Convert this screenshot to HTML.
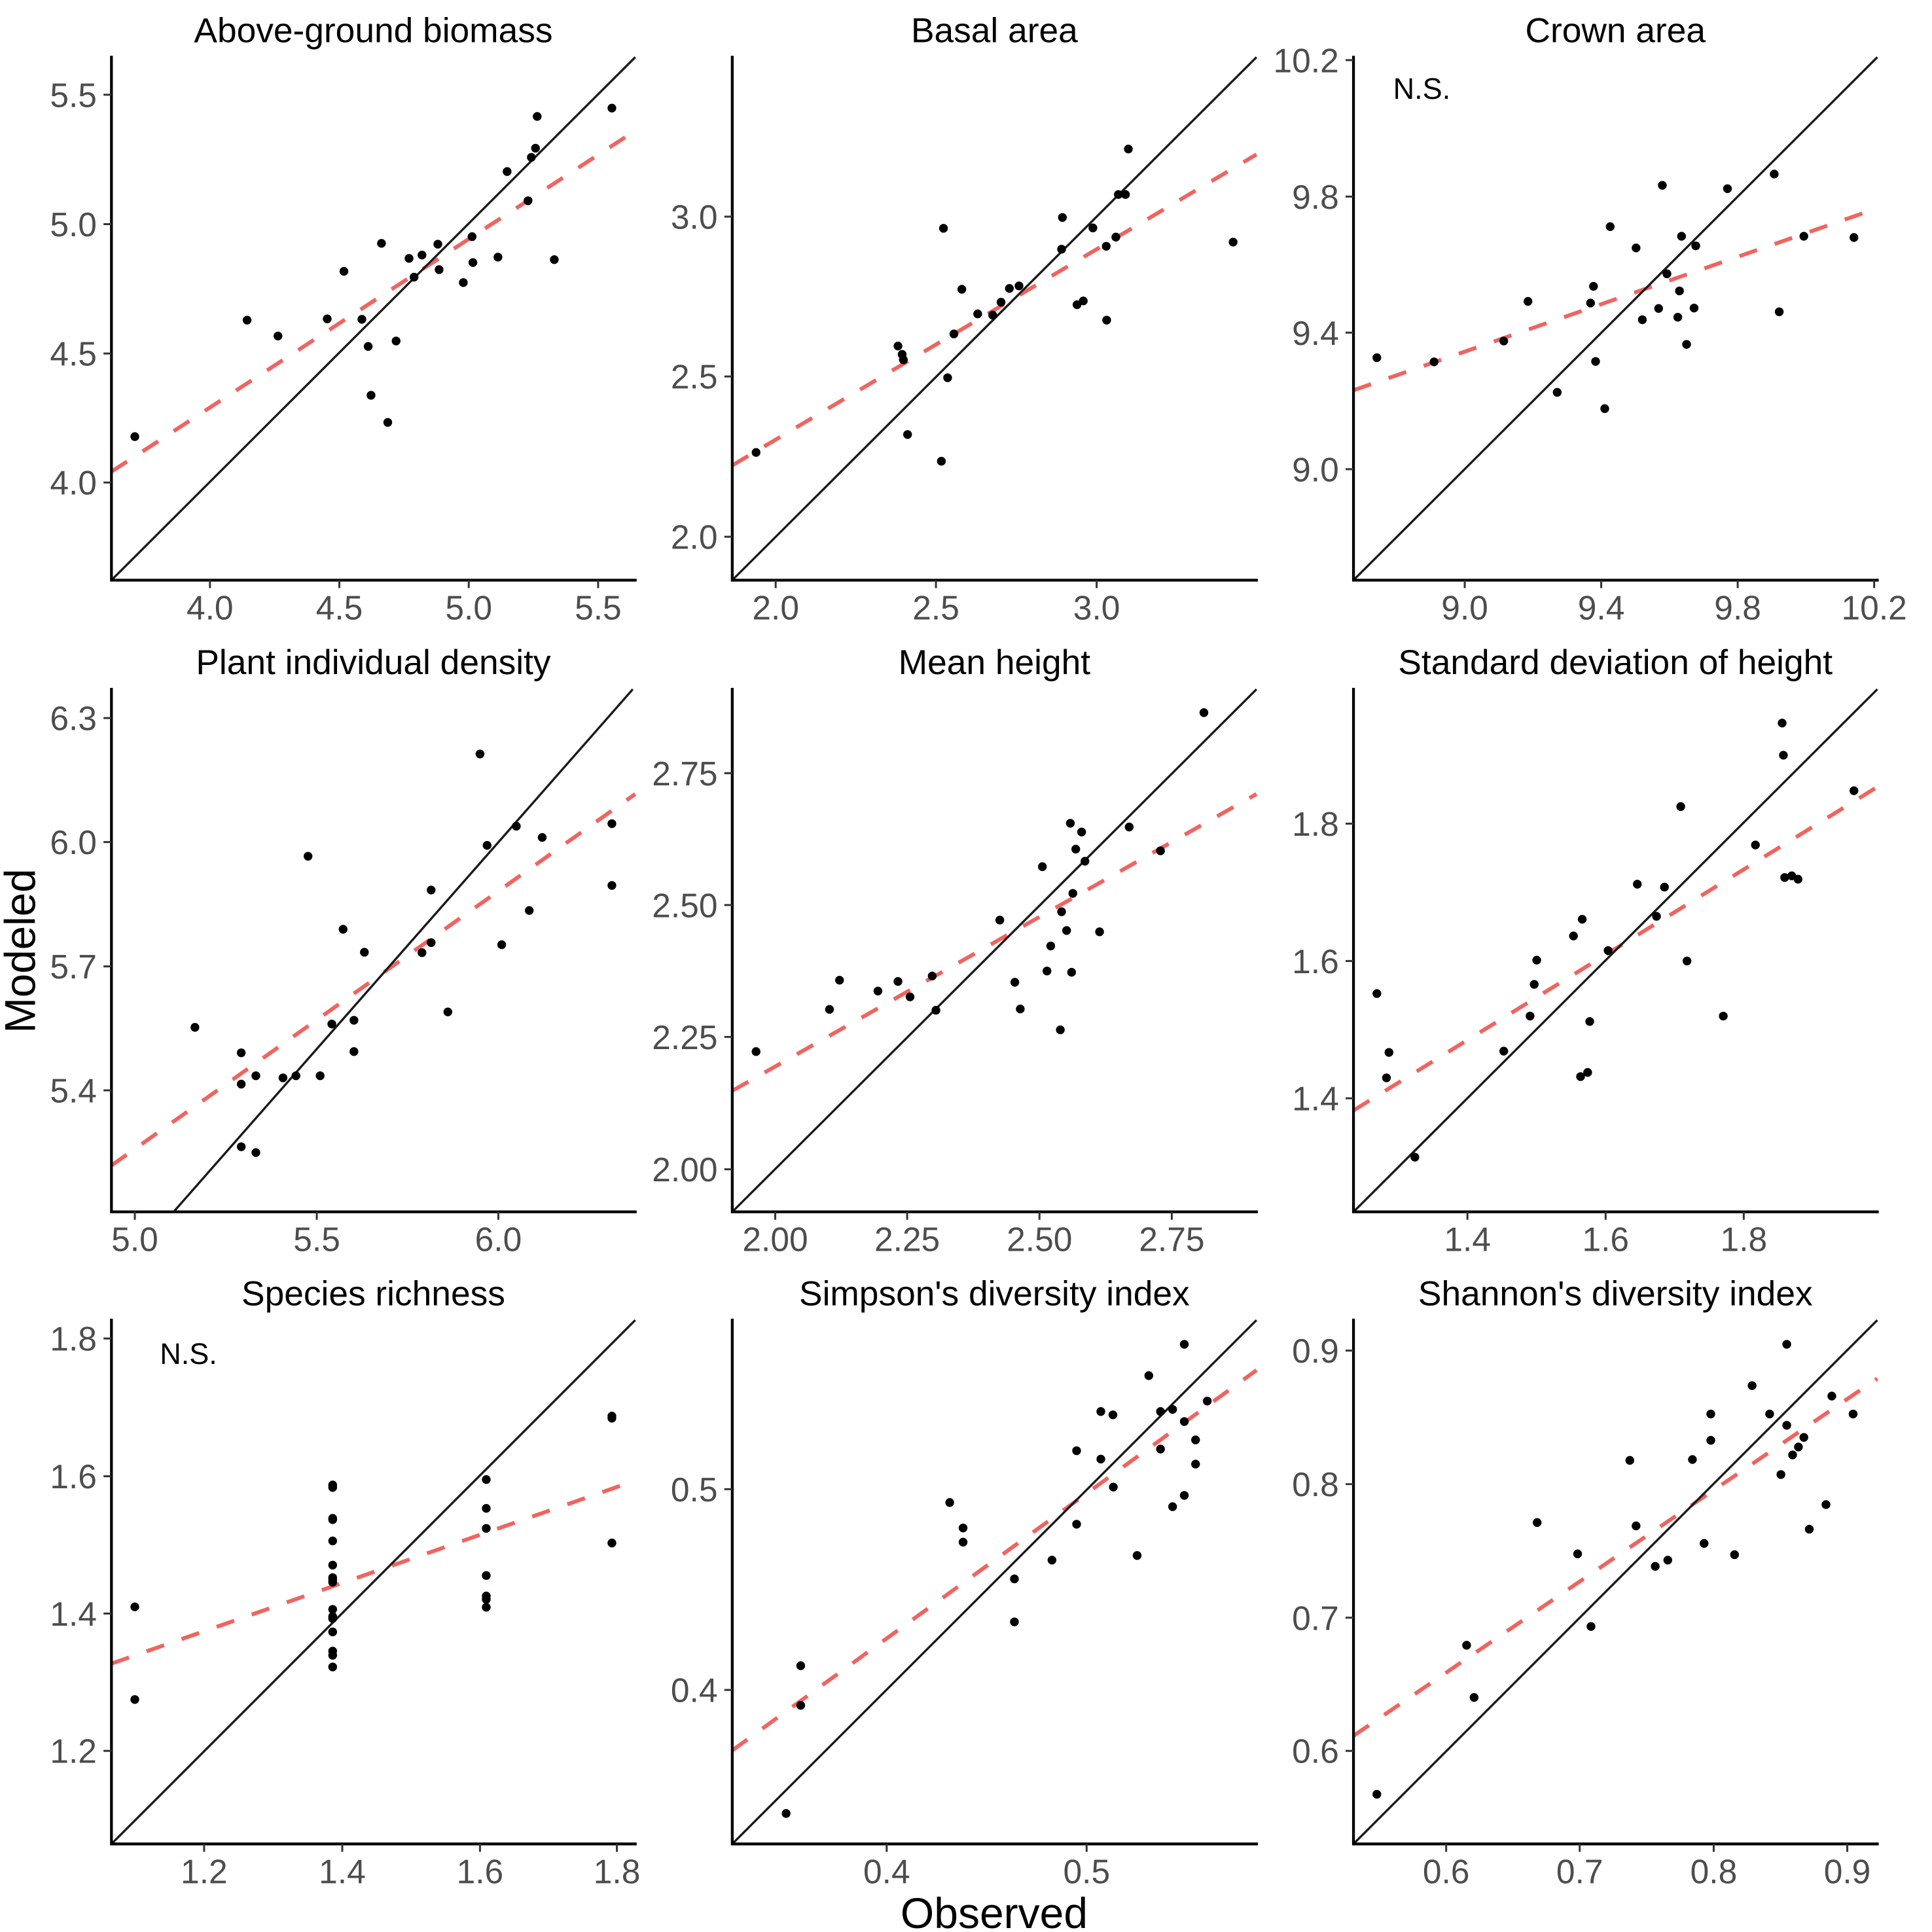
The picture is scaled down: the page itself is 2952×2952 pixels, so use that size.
<!DOCTYPE html>
<html>
<head>
<meta charset="utf-8">
<style>
  html, body { margin:0; padding:0; background:#fff; }
  svg { display:block; font-family:"Liberation Sans", Arial, sans-serif; }
  .pt { fill:#000; }
  .ax { stroke:#000; stroke-width:6.7; fill:none; stroke-linecap:square; }
  .tk { stroke:#333; stroke-width:4.7; fill:none; }
  .red { stroke:#F06460; stroke-width:9.4; stroke-dasharray:44.5 44.5; fill:none; }
  .blk { stroke:#1a1a1a; stroke-width:5.3; fill:none; }
  .tl { font-size:80.8px; fill:#4D4D4D; }
  .tt { font-size:83.6px; fill:#000; }
  .ns { font-size:70.6px; fill:#000; }
  .xl { text-anchor:middle; }
  .yl { text-anchor:end; }
</style>
</head>
<body>
<svg width="2952" height="2952" viewBox="0 0 2952 2952" xmlns="http://www.w3.org/2000/svg">
<rect x="0" y="0" width="2952" height="2952" fill="#fff"/>

<!-- Panel 1: Above-ground biomass -->
<g transform="translate(0,0) scale(0.637755)">
  <line class="red" x1="267" y1="1130" x2="1522" y2="313"/>
  <line class="blk" x1="267" y1="1390" x2="1522" y2="137"/>
  <g class="pt">
    <circle cx="323" cy="1046" r="10.5"/><circle cx="592" cy="767" r="10.5"/><circle cx="666" cy="805" r="10.5"/>
    <circle cx="784" cy="764" r="10.5"/><circle cx="824" cy="650" r="10.5"/><circle cx="867" cy="765" r="10.5"/>
    <circle cx="882" cy="830" r="10.5"/><circle cx="889" cy="947" r="10.5"/><circle cx="914" cy="583" r="10.5"/>
    <circle cx="929" cy="1012" r="10.5"/><circle cx="949" cy="817" r="10.5"/><circle cx="980" cy="619" r="10.5"/>
    <circle cx="992" cy="664" r="10.5"/><circle cx="1011" cy="611" r="10.5"/><circle cx="1049" cy="585" r="10.5"/>
    <circle cx="1052" cy="646" r="10.5"/><circle cx="1110" cy="677" r="10.5"/><circle cx="1131" cy="567" r="10.5"/>
    <circle cx="1133" cy="629" r="10.5"/><circle cx="1193" cy="616" r="10.5"/><circle cx="1215" cy="411" r="10.5"/>
    <circle cx="1265" cy="481" r="10.5"/><circle cx="1273" cy="377" r="10.5"/><circle cx="1283" cy="355" r="10.5"/>
    <circle cx="1287" cy="279" r="10.5"/><circle cx="1328" cy="622" r="10.5"/><circle cx="1466" cy="259" r="10.5"/>
  </g>
  <path class="ax" d="M267,137 L267,1390 L1522,1390"/>
  <path class="tk" d="M503,1390v19 M813,1390v19 M1123,1390v19 M1433,1390v19 M267,227h-19 M267,537h-19 M267,847h-19 M267,1156h-19"/>
  <g class="tl xl">
    <text x="503" y="1484">4.0</text><text x="813" y="1484">4.5</text><text x="1123" y="1484">5.0</text><text x="1433" y="1484">5.5</text>
  </g>
  <g class="tl yl">
    <text x="232" y="256">5.5</text><text x="232" y="566">5.0</text><text x="232" y="876">4.5</text><text x="232" y="1185">4.0</text>
  </g>
  <text class="tt" x="894.5" y="101" text-anchor="middle">Above-ground biomass</text>
</g>

<!-- Panel 2: Basal area -->
<g transform="translate(976,0) scale(0.637755)">
  <line class="red" x1="224" y1="1115" x2="1480" y2="370"/>
  <line class="blk" x1="224" y1="1390" x2="1480" y2="137"/>
  <g class="pt">
    <circle cx="281" cy="1084" r="10.5"/><circle cx="621" cy="829" r="10.5"/><circle cx="631" cy="849" r="10.5"/>
    <circle cx="634" cy="862" r="10.5"/><circle cx="644" cy="1041" r="10.5"/><circle cx="725" cy="1105" r="10.5"/>
    <circle cx="730" cy="547" r="10.5"/><circle cx="740" cy="905" r="10.5"/><circle cx="755" cy="800" r="10.5"/>
    <circle cx="774" cy="693" r="10.5"/><circle cx="812" cy="752" r="10.5"/><circle cx="848" cy="755" r="10.5"/>
    <circle cx="868" cy="724" r="10.5"/><circle cx="888" cy="691" r="10.5"/><circle cx="911" cy="685" r="10.5"/>
    <circle cx="1013" cy="597" r="10.5"/><circle cx="1015" cy="521" r="10.5"/><circle cx="1050" cy="730" r="10.5"/>
    <circle cx="1065" cy="721" r="10.5"/><circle cx="1088" cy="546" r="10.5"/><circle cx="1120" cy="590" r="10.5"/>
    <circle cx="1121" cy="767" r="10.5"/><circle cx="1143" cy="568" r="10.5"/><circle cx="1149" cy="466" r="10.5"/>
    <circle cx="1166" cy="466" r="10.5"/><circle cx="1173" cy="357" r="10.5"/><circle cx="1424" cy="580" r="10.5"/>
  </g>
  <path class="ax" d="M224,137 L224,1390 L1480,1390"/>
  <path class="tk" d="M328,1390v19 M712,1390v19 M1097,1390v19 M224,519h-19 M224,902h-19 M224,1286h-19"/>
  <g class="tl xl">
    <text x="328" y="1484">2.0</text><text x="712" y="1484">2.5</text><text x="1097" y="1484">3.0</text>
  </g>
  <g class="tl yl">
    <text x="189" y="548">3.0</text><text x="189" y="931">2.5</text><text x="189" y="1315">2.0</text>
  </g>
  <text class="tt" x="852" y="101" text-anchor="middle">Basal area</text>
</g>

<!-- Panel 3: Crown area -->
<g transform="translate(1952,0) scale(0.637755)">
  <line class="red" x1="182" y1="935" x2="1437" y2="499"/>
  <line class="blk" x1="182" y1="1390" x2="1437" y2="137"/>
  <g class="pt">
    <circle cx="238" cy="857" r="10.5"/><circle cx="375" cy="867" r="10.5"/><circle cx="542" cy="817" r="10.5"/>
    <circle cx="600" cy="722" r="10.5"/><circle cx="670" cy="940" r="10.5"/><circle cx="750" cy="726" r="10.5"/>
    <circle cx="757" cy="686" r="10.5"/><circle cx="762" cy="866" r="10.5"/><circle cx="784" cy="979" r="10.5"/>
    <circle cx="797" cy="543" r="10.5"/><circle cx="859" cy="594" r="10.5"/><circle cx="874" cy="766" r="10.5"/>
    <circle cx="913" cy="739" r="10.5"/><circle cx="922" cy="444" r="10.5"/><circle cx="933" cy="656" r="10.5"/>
    <circle cx="959" cy="760" r="10.5"/><circle cx="963" cy="697" r="10.5"/><circle cx="968" cy="566" r="10.5"/>
    <circle cx="980" cy="825" r="10.5"/><circle cx="998" cy="738" r="10.5"/><circle cx="1002" cy="589" r="10.5"/>
    <circle cx="1078" cy="452" r="10.5"/><circle cx="1190" cy="417" r="10.5"/><circle cx="1202" cy="747" r="10.5"/>
    <circle cx="1261" cy="566" r="10.5"/><circle cx="1381" cy="569" r="10.5"/>
  </g>
  <path class="ax" d="M182,137 L182,1390 L1437,1390"/>
  <path class="tk" d="M448.5,1390v19 M775.5,1390v19 M1102.5,1390v19 M1429.5,1390v19 M182,144h-19 M182,471h-19 M182,797h-19 M182,1124h-19"/>
  <g class="tl xl">
    <text x="448.5" y="1484">9.0</text><text x="775.5" y="1484">9.4</text><text x="1102.5" y="1484">9.8</text><text x="1429.5" y="1484">10.2</text>
  </g>
  <g class="tl yl">
    <text x="147" y="173">10.2</text><text x="147" y="500">9.8</text><text x="147" y="826">9.4</text><text x="147" y="1153">9.0</text>
  </g>
  <text class="tt" x="809.5" y="101" text-anchor="middle">Crown area</text>
  <text class="ns" x="277" y="237">N.S.</text>
</g>

<!-- Panel 4: Plant individual density -->
<g transform="translate(0,976) scale(0.637755)">
  <line class="red" x1="267" y1="1262" x2="1522" y2="372"/>
  <line class="blk" x1="416" y1="1373" x2="1516" y2="121"/>
  <g class="pt">
    <circle cx="467" cy="931" r="10.5"/><circle cx="578" cy="992" r="10.5"/><circle cx="578" cy="1067" r="10.5"/>
    <circle cx="578" cy="1217" r="10.5"/><circle cx="613" cy="1047" r="10.5"/><circle cx="613" cy="1231" r="10.5"/>
    <circle cx="678" cy="1052" r="10.5"/><circle cx="709" cy="1047" r="10.5"/><circle cx="738" cy="521" r="10.5"/>
    <circle cx="767" cy="1047" r="10.5"/><circle cx="795" cy="923" r="10.5"/><circle cx="822" cy="696" r="10.5"/>
    <circle cx="848" cy="914" r="10.5"/><circle cx="848" cy="989" r="10.5"/><circle cx="873" cy="751" r="10.5"/>
    <circle cx="1011" cy="752" r="10.5"/><circle cx="1033" cy="602" r="10.5"/><circle cx="1033" cy="728" r="10.5"/>
    <circle cx="1073" cy="894" r="10.5"/><circle cx="1150" cy="276" r="10.5"/><circle cx="1167" cy="495" r="10.5"/>
    <circle cx="1202" cy="733" r="10.5"/><circle cx="1237" cy="449" r="10.5"/><circle cx="1268" cy="651" r="10.5"/>
    <circle cx="1299" cy="476" r="10.5"/><circle cx="1466" cy="443" r="10.5"/><circle cx="1466" cy="591" r="10.5"/>
  </g>
  <path class="ax" d="M267,121 L267,1373 L1522,1373"/>
  <path class="tk" d="M323,1373v19 M759,1373v19 M1194,1373v19 M267,190h-19 M267,487h-19 M267,785h-19 M267,1082h-19"/>
  <g class="tl xl">
    <text x="323" y="1467">5.0</text><text x="759" y="1467">5.5</text><text x="1194" y="1467">6.0</text>
  </g>
  <g class="tl yl">
    <text x="232" y="219">6.3</text><text x="232" y="516">6.0</text><text x="232" y="814">5.7</text><text x="232" y="1111">5.4</text>
  </g>
  <text class="tt" x="894.5" y="85" text-anchor="middle">Plant individual density</text>
</g>

<!-- Panel 5: Mean height -->
<g transform="translate(976,976) scale(0.637755)">
  <line class="red" x1="224" y1="1083" x2="1480" y2="372"/>
  <line class="blk" x1="224" y1="1373" x2="1480" y2="121"/>
  <g class="pt">
    <circle cx="281" cy="989" r="10.5"/><circle cx="457" cy="888" r="10.5"/><circle cx="481" cy="818" r="10.5"/>
    <circle cx="573" cy="844" r="10.5"/><circle cx="621" cy="821" r="10.5"/><circle cx="650" cy="858" r="10.5"/>
    <circle cx="703" cy="808" r="10.5"/><circle cx="712" cy="890" r="10.5"/><circle cx="865" cy="674" r="10.5"/>
    <circle cx="901" cy="823" r="10.5"/><circle cx="914" cy="887" r="10.5"/><circle cx="967" cy="546" r="10.5"/>
    <circle cx="978" cy="796" r="10.5"/><circle cx="987" cy="736" r="10.5"/><circle cx="1010" cy="937" r="10.5"/>
    <circle cx="1013" cy="654" r="10.5"/><circle cx="1025" cy="699" r="10.5"/><circle cx="1034" cy="442" r="10.5"/>
    <circle cx="1037" cy="799" r="10.5"/><circle cx="1040" cy="610" r="10.5"/><circle cx="1047" cy="504" r="10.5"/>
    <circle cx="1061" cy="463" r="10.5"/><circle cx="1069" cy="533" r="10.5"/><circle cx="1104" cy="702" r="10.5"/>
    <circle cx="1175" cy="451" r="10.5"/><circle cx="1250" cy="508" r="10.5"/><circle cx="1354" cy="177" r="10.5"/>
  </g>
  <path class="ax" d="M224,121 L224,1373 L1480,1373"/>
  <path class="tk" d="M327,1373v19 M643,1373v19 M960,1373v19 M1277,1373v19 M224,322h-19 M224,638h-19 M224,954h-19 M224,1271h-19"/>
  <g class="tl xl">
    <text x="327" y="1467">2.00</text><text x="643" y="1467">2.25</text><text x="960" y="1467">2.50</text><text x="1277" y="1467">2.75</text>
  </g>
  <g class="tl yl">
    <text x="189" y="351">2.75</text><text x="189" y="667">2.50</text><text x="189" y="983">2.25</text><text x="189" y="1300">2.00</text>
  </g>
  <text class="tt" x="852" y="85" text-anchor="middle">Mean height</text>
</g>

<!-- Panel 6: Standard deviation of height -->
<g transform="translate(1952,976) scale(0.637755)">
  <line class="red" x1="182" y1="1130" x2="1437" y2="355"/>
  <line class="blk" x1="182" y1="1373" x2="1437" y2="121"/>
  <g class="pt">
    <circle cx="238" cy="850" r="10.5"/><circle cx="261" cy="1052" r="10.5"/><circle cx="267" cy="991" r="10.5"/>
    <circle cx="329" cy="1242" r="10.5"/><circle cx="542" cy="988" r="10.5"/><circle cx="605" cy="904" r="10.5"/>
    <circle cx="615" cy="828" r="10.5"/><circle cx="621" cy="770" r="10.5"/><circle cx="709" cy="712" r="10.5"/>
    <circle cx="726" cy="1049" r="10.5"/><circle cx="730" cy="672" r="10.5"/><circle cx="743" cy="1039" r="10.5"/>
    <circle cx="748" cy="917" r="10.5"/><circle cx="792" cy="747" r="10.5"/><circle cx="862" cy="588" r="10.5"/>
    <circle cx="908" cy="665" r="10.5"/><circle cx="927" cy="595" r="10.5"/><circle cx="966" cy="402" r="10.5"/>
    <circle cx="981" cy="772" r="10.5"/><circle cx="1068" cy="904" r="10.5"/><circle cx="1145" cy="494" r="10.5"/>
    <circle cx="1209" cy="202" r="10.5"/><circle cx="1212" cy="279" r="10.5"/><circle cx="1215" cy="572" r="10.5"/>
    <circle cx="1232" cy="568" r="10.5"/><circle cx="1247" cy="576" r="10.5"/><circle cx="1381" cy="364" r="10.5"/>
  </g>
  <path class="ax" d="M182,121 L182,1373 L1437,1373"/>
  <path class="tk" d="M455,1373v19 M786,1373v19 M1117,1373v19 M182,443h-19 M182,772h-19 M182,1101h-19"/>
  <g class="tl xl">
    <text x="455" y="1467">1.4</text><text x="786" y="1467">1.6</text><text x="1117" y="1467">1.8</text>
  </g>
  <g class="tl yl">
    <text x="147" y="472">1.8</text><text x="147" y="801">1.6</text><text x="147" y="1130">1.4</text>
  </g>
  <text class="tt" x="809.5" y="85" text-anchor="middle">Standard deviation of height</text>
</g>

<!-- Panel 7: Species richness -->
<g transform="translate(0,1952) scale(0.637755)">
  <line class="red" x1="267" y1="925" x2="1522" y2="486.5"/>
  <line class="blk" x1="267" y1="1357" x2="1522" y2="102"/>
  <g class="pt">
    <circle cx="323" cy="789" r="10.5"/><circle cx="323" cy="1011" r="10.5"/>
    <circle cx="797" cy="497" r="10.5"/><circle cx="797" cy="503" r="10.5"/><circle cx="797" cy="577" r="10.5"/>
    <circle cx="797" cy="580" r="10.5"/><circle cx="797" cy="631" r="10.5"/><circle cx="797" cy="689" r="10.5"/>
    <circle cx="797" cy="719" r="10.5"/><circle cx="797" cy="724" r="10.5"/><circle cx="797" cy="730" r="10.5"/>
    <circle cx="797" cy="795" r="10.5"/><circle cx="797" cy="812" r="10.5"/><circle cx="797" cy="817" r="10.5"/>
    <circle cx="797" cy="849" r="10.5"/><circle cx="797" cy="895" r="10.5"/><circle cx="797" cy="905" r="10.5"/>
    <circle cx="797" cy="933" r="10.5"/>
    <circle cx="1165" cy="484" r="10.5"/><circle cx="1165" cy="553" r="10.5"/><circle cx="1165" cy="601" r="10.5"/>
    <circle cx="1165" cy="714" r="10.5"/><circle cx="1165" cy="763" r="10.5"/><circle cx="1165" cy="771" r="10.5"/>
    <circle cx="1165" cy="790" r="10.5"/>
    <circle cx="1466" cy="332" r="10.5"/><circle cx="1466" cy="337" r="10.5"/><circle cx="1466" cy="636" r="10.5"/>
  </g>
  <path class="ax" d="M267,102 L267,1357 L1522,1357"/>
  <path class="tk" d="M489,1357v19 M820,1357v19 M1150,1357v19 M1478,1357v19 M267,146h-19 M267,476h-19 M267,805h-19 M267,1134h-19"/>
  <g class="tl xl">
    <text x="489" y="1451">1.2</text><text x="820" y="1451">1.4</text><text x="1150" y="1451">1.6</text><text x="1478" y="1451">1.8</text>
  </g>
  <g class="tl yl">
    <text x="232" y="175">1.8</text><text x="232" y="505">1.6</text><text x="232" y="834">1.4</text><text x="232" y="1163">1.2</text>
  </g>
  <text class="tt" x="894.5" y="67" text-anchor="middle">Species richness</text>
  <text class="ns" x="383" y="207">N.S.</text>
</g>

<!-- Panel 8: Simpson's diversity index -->
<g transform="translate(976,1952) scale(0.637755)">
  <line class="red" x1="224" y1="1133" x2="1480" y2="222"/>
  <line class="blk" x1="224" y1="1357" x2="1480" y2="102"/>
  <g class="pt">
    <circle cx="353" cy="1284" r="10.5"/><circle cx="388" cy="930" r="10.5"/><circle cx="388" cy="1025" r="10.5"/>
    <circle cx="745" cy="539" r="10.5"/><circle cx="777" cy="600" r="10.5"/><circle cx="777" cy="634" r="10.5"/>
    <circle cx="900" cy="722" r="10.5"/><circle cx="900" cy="825" r="10.5"/><circle cx="990" cy="677" r="10.5"/>
    <circle cx="1049" cy="415" r="10.5"/><circle cx="1049" cy="591" r="10.5"/><circle cx="1107" cy="321" r="10.5"/>
    <circle cx="1107" cy="435" r="10.5"/><circle cx="1136" cy="329" r="10.5"/><circle cx="1137" cy="502" r="10.5"/>
    <circle cx="1194" cy="666" r="10.5"/><circle cx="1222" cy="235" r="10.5"/><circle cx="1250" cy="321" r="10.5"/>
    <circle cx="1250" cy="411" r="10.5"/><circle cx="1279" cy="316" r="10.5"/><circle cx="1279" cy="549" r="10.5"/>
    <circle cx="1307" cy="160" r="10.5"/><circle cx="1307" cy="345" r="10.5"/><circle cx="1307" cy="522" r="10.5"/>
    <circle cx="1334" cy="389" r="10.5"/><circle cx="1334" cy="447" r="10.5"/><circle cx="1362" cy="296" r="10.5"/>
  </g>
  <path class="ax" d="M224,102 L224,1357 L1480,1357"/>
  <path class="tk" d="M594,1357v19 M1073,1357v19 M224,507h-19 M224,988h-19"/>
  <g class="tl xl">
    <text x="594" y="1451">0.4</text><text x="1073" y="1451">0.5</text>
  </g>
  <g class="tl yl">
    <text x="189" y="536">0.5</text><text x="189" y="1017">0.4</text>
  </g>
  <text class="tt" x="852" y="67" text-anchor="middle">Simpson's diversity index</text>
</g>

<!-- Panel 9: Shannon's diversity index -->
<g transform="translate(1952,1952) scale(0.637755)">
  <line class="red" x1="182" y1="1098" x2="1437" y2="242"/>
  <line class="blk" x1="182" y1="1357" x2="1437" y2="102"/>
  <g class="pt">
    <circle cx="238" cy="1238" r="10.5"/><circle cx="453" cy="881" r="10.5"/><circle cx="471" cy="1006" r="10.5"/>
    <circle cx="622" cy="587" r="10.5"/><circle cx="719" cy="662" r="10.5"/><circle cx="751" cy="836" r="10.5"/>
    <circle cx="844" cy="438" r="10.5"/><circle cx="859" cy="595" r="10.5"/><circle cx="905" cy="692" r="10.5"/>
    <circle cx="935" cy="677" r="10.5"/><circle cx="994" cy="436" r="10.5"/><circle cx="1022" cy="637" r="10.5"/>
    <circle cx="1038" cy="327" r="10.5"/><circle cx="1038" cy="390" r="10.5"/><circle cx="1095" cy="664" r="10.5"/>
    <circle cx="1137" cy="259" r="10.5"/><circle cx="1179" cy="327" r="10.5"/><circle cx="1206" cy="472" r="10.5"/>
    <circle cx="1220" cy="160" r="10.5"/><circle cx="1220" cy="354" r="10.5"/><circle cx="1234" cy="425" r="10.5"/>
    <circle cx="1248" cy="406" r="10.5"/><circle cx="1261" cy="383" r="10.5"/><circle cx="1274" cy="603" r="10.5"/>
    <circle cx="1314" cy="544" r="10.5"/><circle cx="1328" cy="284" r="10.5"/><circle cx="1379" cy="327" r="10.5"/>
  </g>
  <path class="ax" d="M182,102 L182,1357 L1437,1357"/>
  <path class="tk" d="M404,1357v19 M724,1357v19 M1045,1357v19 M1365,1357v19 M182,175h-19 M182,495h-19 M182,815h-19 M182,1134h-19"/>
  <g class="tl xl">
    <text x="404" y="1451">0.6</text><text x="724" y="1451">0.7</text><text x="1045" y="1451">0.8</text><text x="1365" y="1451">0.9</text>
  </g>
  <g class="tl yl">
    <text x="147" y="204">0.9</text><text x="147" y="524">0.8</text><text x="147" y="844">0.7</text><text x="147" y="1163">0.6</text>
  </g>
  <text class="tt" x="809.5" y="67" text-anchor="middle">Shannon's diversity index</text>
</g>

<!-- Axis titles -->
<text x="1519" y="2946" text-anchor="middle" style="font-size:66px;fill:#000">Observed</text>
<text transform="translate(53.5,1453) rotate(-90)" x="0" y="0" text-anchor="middle" style="font-size:65.5px;fill:#000">Modeled</text>
</svg>
</body>
</html>
